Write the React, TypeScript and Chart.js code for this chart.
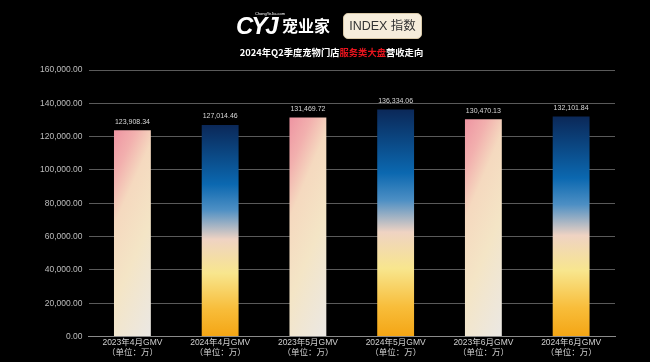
import React, { useEffect, useRef } from "react";
import { Chart, registerables } from "chart.js";

Chart.register(...registerables);

const categories: string[][] = [
  ["2023年4月GMV", "（单位：万）"],
  ["2024年4月GMV", "（单位：万）"],
  ["2023年5月GMV", "（单位：万）"],
  ["2024年5月GMV", "（单位：万）"],
  ["2023年6月GMV", "（单位：万）"],
  ["2024年6月GMV", "（单位：万）"],
];
const gmvValues: number[] = [123908.34, 127014.46, 131469.72, 136334.06, 130470.13, 132101.84];
const barYears: number[] = [2023, 2024, 2023, 2024, 2023, 2024];
const yMin = 0;
const yMax = 160000;
const yStep = 20000;

const fmt = (v: number) =>
  v.toLocaleString("en-US", { minimumFractionDigits: 2, maximumFractionDigits: 2 });

const FONT = "'Liberation Sans', Arial, 'Noto Sans CJK SC', sans-serif";

export default function App() {
  const ref = useRef<HTMLCanvasElement | null>(null);

  useEffect(() => {
    document.body.style.margin = "0";
    document.body.style.background = "#000";
    const canvas = ref.current;
    if (!canvas) return;

    const barColor = (ctx: any) => {
      const chart = ctx.chart;
      const i = ctx.dataIndex;
      const xs = chart.scales?.x;
      const ys = chart.scales?.y;
      if (!xs || !ys || i === undefined || !chart.chartArea) return "#f0c0a0";
      const c = chart.ctx as CanvasRenderingContext2D;
      const top = ys.getPixelForValue(gmvValues[i]);
      const bottom = ys.getPixelForValue(0);
      const cx = xs.getPixelForValue(i);
      const w = (xs.width / categories.length) * 0.42;
      if (![top, bottom, cx, w].every((n) => Number.isFinite(n)) || w <= 0) return "#f0c0a0";
      const h = bottom - top;
      if (barYears[i] === 2023) {
        const vx = 0.4 * h;
        const vy = w;
        const len = Math.sqrt(vx * vx + vy * vy);
        const far = (w * vx + h * vy) / len;
        const left = cx - w / 2;
        const g = c.createLinearGradient(left, top, left + (vx / len) * far, top + (vy / len) * far);
        g.addColorStop(0, "#ee94a2");
        g.addColorStop(0.17, "#f2b0ae");
        g.addColorStop(0.33, "#f5d9bf");
        g.addColorStop(0.6, "#f4e5c6");
        g.addColorStop(1, "#ebe8e4");
        return g;
      }
      const g = c.createLinearGradient(0, top, 0, bottom);
      g.addColorStop(0, "#0b2858");
      g.addColorStop(0.28, "#0b68b0");
      g.addColorStop(0.4, "#4d8fc4");
      g.addColorStop(0.54, "#efd3c3");
      g.addColorStop(0.7, "#f8e68e");
      g.addColorStop(0.87, "#f8bd3a");
      g.addColorStop(1, "#f4a514");
      return g;
    };

    const valueLabels = {
      id: "valueLabels",
      afterDatasetsDraw(chart: any) {
        const c = chart.ctx as CanvasRenderingContext2D;
        const meta = chart.getDatasetMeta(0);
        c.save();
        c.font = `7px ${FONT}`;
        c.fillStyle = "#d8d8d8";
        c.textAlign = "center";
        c.textBaseline = "bottom";
        meta.data.forEach((el: any, i: number) => {
          c.fillText(fmt(gmvValues[i]), el.x, el.y - 5);
        });
        c.restore();
      },
    };

    const chart = new Chart(canvas, {
      type: "bar",
      data: {
        labels: categories,
        datasets: [
          {
            data: gmvValues,
            backgroundColor: barColor,
            borderWidth: 0,
            barPercentage: 0.42,
            categoryPercentage: 1,
          },
        ],
      },
      options: {
        animation: false,
        responsive: false,
        maintainAspectRatio: false,
        layout: { padding: { top: 70, left: 34, right: 35, bottom: 3 } },
        plugins: { legend: { display: false }, tooltip: { enabled: false } },
        scales: {
          x: {
            grid: { display: false, drawTicks: false },
            border: { display: true, color: "#8a8a8a", width: 1 },
            ticks: {
              color: "#d0d0d0",
              font: { size: 8.5, family: FONT, lineHeight: 1.2 },
              padding: 1,
              maxRotation: 0,
              autoSkip: false,
            },
          },
          y: {
            min: yMin,
            max: yMax,
            ticks: {
              stepSize: yStep,
              color: "#bdbdbd",
              font: { size: 8.5, family: FONT },
              padding: 6,
              callback: (v: any) => fmt(Number(v)),
            },
            grid: { color: "#5a5a5a", lineWidth: 1, drawTicks: false },
            border: { display: false },
          },
        },
      },
      plugins: [valueLabels],
    });
    chart.update();
    return () => chart.destroy();
  }, []);

  return (
    <div style={{ position: "fixed", left: 0, top: 0, width: 650, height: 362, background: "#000", overflow: "hidden" }}>
      <canvas ref={ref} width={650} height={362} style={{ position: "absolute", left: 0, top: 0, width: 650, height: 362 }} />
      <div style={{ position: "absolute", left: 236, top: 10, width: 46, height: 28, color: "#fff" }}>
        <div style={{ position: "absolute", left: 19, top: 1, fontSize: 4, fontFamily: FONT, whiteSpace: "nowrap" }}>ChongYeJia.com</div>
        <div style={{ position: "absolute", left: 0, top: 2, fontSize: 24, fontWeight: 900, fontFamily: FONT, letterSpacing: -2, fontStyle: "italic", whiteSpace: "nowrap", lineHeight: "28px" }}>CYJ</div>
      </div>
      <div style={{ position: "absolute", left: 282, top: 13, color: "#fff", fontSize: 16, fontWeight: 700, fontFamily: "'Noto Sans CJK SC', sans-serif", lineHeight: "24px", whiteSpace: "nowrap" }}>宠业家</div>
      <div style={{ position: "absolute", left: 343, top: 13, width: 79, height: 26, boxSizing: "border-box", background: "#f6eddb", border: "1px solid #d9c9a8", borderRadius: 5, color: "#333", fontSize: 12.5, fontFamily: "'Liberation Sans', 'Noto Sans CJK SC', sans-serif", lineHeight: "24px", textAlign: "center", whiteSpace: "nowrap" }}>INDEX 指数</div>
      <div style={{ position: "absolute", left: 0, top: 45, width: 663, textAlign: "center", color: "#fff", fontSize: 9.3, fontWeight: 700, fontFamily: "'Noto Sans CJK SC', sans-serif", lineHeight: "14px", whiteSpace: "nowrap" }}>
        2024年Q2季度宠物门店<span style={{ color: "#e8141e" }}>服务类大盘</span>营收走向
      </div>
    </div>
  );
}
